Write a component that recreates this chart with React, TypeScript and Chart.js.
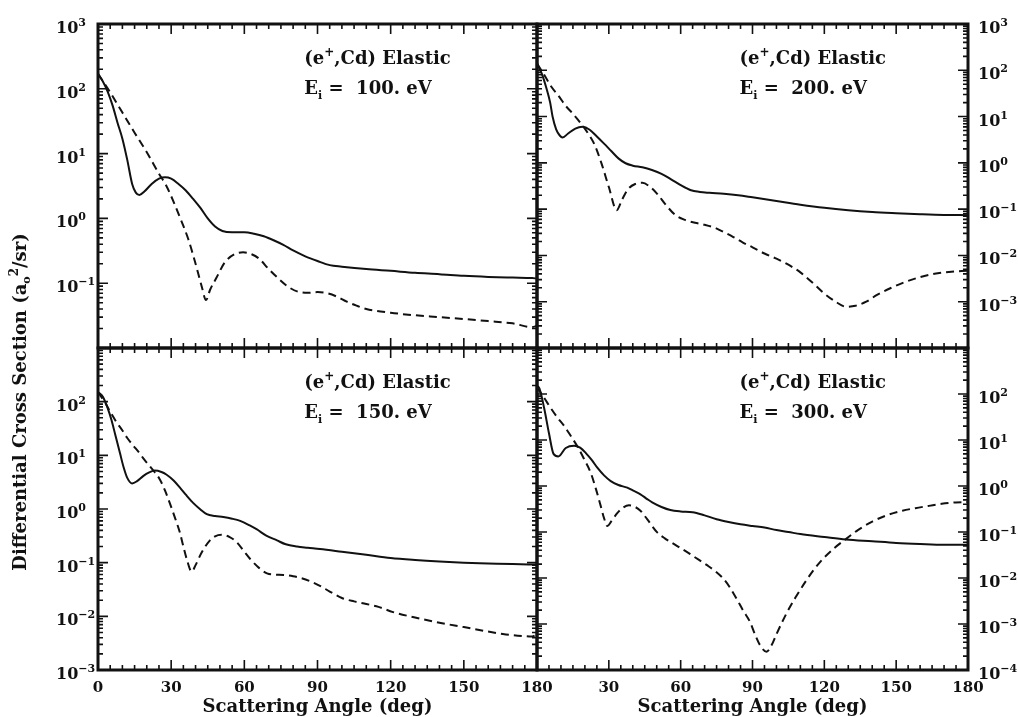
import { useEffect, useRef } from 'react';
import { Chart, registerables } from 'chart.js';

Chart.register(...registerables);

const PAGE_W = 1018;
const PAGE_H = 717;
const SERIF = '"DejaVu Serif", serif';
const INK = '#111';

// E = 100 eV
const angles100Solid = [0, 2, 4, 6, 8, 10, 12, 14, 15.5, 17, 19, 22, 25, 27.5, 30, 33, 36, 39, 42, 45, 48, 51, 55, 60, 64, 68, 72, 76, 80, 85, 90, 95, 100, 110, 120, 130, 140, 150, 160, 170, 178, 180];
const dcs100Solid = [170, 130, 90, 55, 30, 17, 8, 3.4, 2.5, 2.3, 2.6, 3.4, 4.1, 4.3, 4.1, 3.4, 2.7, 2.0, 1.45, 1.0, 0.75, 0.64, 0.61, 0.61, 0.58, 0.53, 0.46, 0.39, 0.32, 0.26, 0.22, 0.19, 0.18, 0.165, 0.155, 0.145, 0.138, 0.13, 0.125, 0.122, 0.12, 0.118];
const angles100Dashed = [0, 5, 10, 15, 20, 25, 28, 31, 34, 37, 40, 42.5, 44.3, 46, 48.5, 52, 56, 59.5, 63, 66, 70, 74, 78, 82, 86, 90, 94, 98, 102, 106, 110, 120, 130, 140, 150, 160, 170, 178, 180];
const dcs100Dashed = [170, 88, 43, 21, 10.5, 4.9, 3.2, 1.8, 0.95, 0.48, 0.2, 0.09, 0.055, 0.08, 0.12, 0.21, 0.28, 0.3, 0.28, 0.24, 0.165, 0.118, 0.088, 0.074, 0.071, 0.073, 0.07, 0.062, 0.052, 0.045, 0.04, 0.035, 0.032, 0.03, 0.028, 0.026, 0.024, 0.021, 0.022];

// E = 200 eV
const angles200Solid = [0, 2, 4, 5.5, 6.5, 8, 9.5, 10.7, 13, 16, 19, 22, 25, 28, 31, 34, 37, 40, 44, 48, 52, 56, 60, 64, 68, 72, 78, 84, 90, 100, 110, 120, 130, 140, 150, 160, 170, 180];
const dcs200Solid = [140, 85, 40, 20, 10, 5.3, 3.9, 3.55, 4.3, 5.5, 6.0, 5.2, 3.7, 2.6, 1.8, 1.25, 0.98, 0.87, 0.8, 0.7, 0.58, 0.44, 0.33, 0.26, 0.235, 0.225, 0.215, 0.2, 0.18, 0.15, 0.125, 0.107, 0.095, 0.087, 0.082, 0.078, 0.075, 0.074];
const angles200Dashed = [0, 3, 6, 9, 12, 15, 18, 21, 24, 27, 30, 33.3, 35.5, 38, 41, 44, 47, 50, 54, 58, 62, 66, 70, 74, 78, 82, 86, 90, 95, 100, 105, 110, 115, 120, 125, 129, 133, 137.5, 142, 148, 154, 160, 166, 172, 180];
const dcs200Dashed = [140, 80, 44, 28, 17, 11.5, 7.5, 4.6, 2.5, 0.95, 0.3, 0.095, 0.16, 0.27, 0.35, 0.37, 0.31, 0.22, 0.12, 0.073, 0.058, 0.051, 0.046, 0.04, 0.032, 0.025, 0.019, 0.015, 0.011, 0.0085, 0.0063, 0.0043, 0.0026, 0.0015, 0.00098, 0.00078, 0.00082, 0.001, 0.0014, 0.002, 0.0027, 0.0034, 0.004, 0.0044, 0.0047];

// E = 150 eV
const angles150Solid = [0, 2, 4, 5.5, 7, 9, 10.5, 12, 14, 16, 18.5, 21, 23.3, 26, 28, 31, 33.6, 36, 39, 42, 44.6, 48, 51.4, 55, 58.3, 62, 65, 69, 73.4, 77, 81.6, 86, 91, 100, 110, 120, 130, 140, 150, 160, 170, 180];
const dcs150Solid = [150, 124, 75, 46, 25, 11, 6, 3.8, 3.0, 3.3, 4.1, 4.8, 5.2, 4.9, 4.4, 3.4, 2.5, 1.85, 1.3, 0.98, 0.8, 0.74, 0.71, 0.66, 0.6, 0.5, 0.42, 0.32, 0.26, 0.22, 0.2, 0.19, 0.18, 0.16, 0.14, 0.122, 0.112, 0.105, 0.1, 0.097, 0.094, 0.092];
const angles150Dashed = [0, 3, 5, 7.5, 10, 12, 14.3, 17, 19, 21.2, 23, 25.3, 27.5, 29.4, 31.5, 33.6, 35, 36.3, 38.4, 40, 42.5, 45.9, 48, 50.7, 54, 56.9, 60, 62.4, 66, 69.3, 72, 76, 80, 83, 87, 91, 95, 100, 105, 110, 115, 121, 130, 140, 150, 158, 166, 174, 178, 180];
const dcs150Dashed = [150, 95, 65, 42, 29, 21, 15.5, 11, 8.3, 6.3, 5, 3.6, 2.2, 1.3, 0.7, 0.36, 0.2, 0.12, 0.068, 0.09, 0.155, 0.26, 0.31, 0.33, 0.3, 0.24, 0.16, 0.117, 0.08, 0.063, 0.06, 0.059, 0.056, 0.052, 0.045, 0.037, 0.029, 0.022, 0.019, 0.017, 0.015, 0.012, 0.0095, 0.0076, 0.0063, 0.0054, 0.0047, 0.0043, 0.0042, 0.0046];

// E = 300 eV
const angles300Solid = [0, 1, 3, 5, 6.9, 8.9, 12, 15.5, 18, 20.4, 23, 25.2, 28, 30.8, 34, 37.7, 40, 43.2, 46, 48.1, 52, 55.7, 60, 65, 70, 75, 80, 85, 90, 95, 100, 105, 110, 120, 129, 140, 150, 160, 170, 180];
const dcs300Solid = [150, 132, 49, 14, 5.0, 4.4, 6.7, 7.5, 6.8, 5.2, 3.6, 2.5, 1.7, 1.28, 1.05, 0.92, 0.8, 0.66, 0.52, 0.44, 0.35, 0.3, 0.28, 0.27, 0.23, 0.19, 0.165, 0.147, 0.135, 0.125, 0.11, 0.1, 0.09, 0.078, 0.069, 0.063, 0.058, 0.055, 0.053, 0.053];
const angles300Dashed = [0, 3, 5.8, 8.5, 11.4, 14, 16.9, 19.5, 22.5, 24.5, 26.6, 28, 29.4, 31, 33.6, 36, 38.4, 40.5, 43.2, 46, 50.2, 53.5, 57.1, 60.5, 64, 67.5, 71, 74.5, 77.9, 80.5, 83.4, 86, 89, 91, 93.1, 95.9, 98, 100, 104.2, 108, 112.5, 116, 119.4, 124, 129.1, 134, 140.2, 146, 152.6, 158, 163.7, 169, 174.9, 180];
const dcs300Dashed = [140, 82, 49, 31, 20, 12.5, 7.2, 4.0, 1.9, 0.9, 0.37, 0.2, 0.135, 0.17, 0.26, 0.34, 0.38, 0.36, 0.29, 0.19, 0.098, 0.072, 0.055, 0.043, 0.033, 0.025, 0.019, 0.014, 0.0096, 0.0063, 0.0035, 0.002, 0.0011, 0.0006, 0.00035, 0.00025, 0.00035, 0.0006, 0.0017, 0.0038, 0.0089, 0.016, 0.026, 0.044, 0.071, 0.11, 0.17, 0.23, 0.29, 0.33, 0.37, 0.41, 0.44, 0.45];

// Axis tick labels
const xLabelsLeft = [0, 30, 60, 90, 120, 150, 180];
const xLabelsRight = [30, 60, 90, 120, 150, 180];
const yExpTopLeft = [3, 2, 1, 0, -1];
const yExpBottomLeft = [2, 1, 0, -1, -2, -3];
const yExpTopRight = [3, 2, 1, 0, -1, -2, -3];
const yExpBottomRight = [2, 1, 0, -1, -2, -3, -4];

const energyLabels = ['100.', '200.', '150.', '300.'];

type Run = { t: string; size: number; dy?: number };

function drawRuns(ctx: CanvasRenderingContext2D, runs: Run[], x: number, y: number, align: 'left' | 'center') {
  let total = 0;
  for (const r of runs) {
    ctx.font = `bold ${r.size}px ${SERIF}`;
    total += ctx.measureText(r.t).width;
  }
  let cx = align === 'center' ? x - total / 2 : x;
  ctx.textAlign = 'left';
  ctx.textBaseline = 'alphabetic';
  for (const r of runs) {
    ctx.font = `bold ${r.size}px ${SERIF}`;
    ctx.fillText(r.t, cx, y + (r.dy || 0));
    cx += ctx.measureText(r.t).width;
  }
}

interface PanelSpec {
  id: string;
  energy: string;
  solid: { x: number; y: number }[];
  dashed: { x: number; y: number }[];
  yMinExp: number;
  yMaxExp: number;
  yLabelExps: number[];
  ySide: 'left' | 'right';
  xLabels: number[];
  pad: { left: number; top: number; right: number; bottom: number };
  xTitle: boolean;
  yTitle: boolean;
}

const pts = (xs: number[], ys: number[]) => xs.map((x, i) => ({ x, y: ys[i] }));

const panels: PanelSpec[] = [
  {
    id: 'tl', energy: energyLabels[0],
    solid: pts(angles100Solid, dcs100Solid), dashed: pts(angles100Dashed, dcs100Dashed),
    yMinExp: -2, yMaxExp: 3, yLabelExps: yExpTopLeft, ySide: 'left', xLabels: [],
    pad: { left: 98, top: 24, right: PAGE_W - 537, bottom: PAGE_H - 348 }, xTitle: false, yTitle: true,
  },
  {
    id: 'tr', energy: energyLabels[1],
    solid: pts(angles200Solid, dcs200Solid), dashed: pts(angles200Dashed, dcs200Dashed),
    yMinExp: -4, yMaxExp: 3, yLabelExps: yExpTopRight, ySide: 'right', xLabels: [],
    pad: { left: 537, top: 24, right: PAGE_W - 968, bottom: PAGE_H - 348 }, xTitle: false, yTitle: false,
  },
  {
    id: 'bl', energy: energyLabels[2],
    solid: pts(angles150Solid, dcs150Solid), dashed: pts(angles150Dashed, dcs150Dashed),
    yMinExp: -3, yMaxExp: 3, yLabelExps: yExpBottomLeft, ySide: 'left', xLabels: xLabelsLeft,
    pad: { left: 98, top: 348, right: PAGE_W - 537, bottom: PAGE_H - 670 }, xTitle: true, yTitle: false,
  },
  {
    id: 'br', energy: energyLabels[3],
    solid: pts(angles300Solid, dcs300Solid), dashed: pts(angles300Dashed, dcs300Dashed),
    yMinExp: -4, yMaxExp: 3, yLabelExps: yExpBottomRight, ySide: 'right', xLabels: xLabelsRight,
    pad: { left: 537, top: 348, right: PAGE_W - 968, bottom: PAGE_H - 670 }, xTitle: true, yTitle: false,
  },
];

function makeFramePlugin(spec: PanelSpec) {
  return {
    id: 'panelFrame_' + spec.id,
    afterDraw(chart: Chart) {
      const ctx = chart.ctx;
      const area = chart.chartArea;
      const xs = chart.scales.x;
      const ys = chart.scales.y;
      ctx.save();
      ctx.strokeStyle = INK;
      ctx.fillStyle = INK;

      // angle ticks every 5 degrees, on top and bottom edges
      ctx.lineWidth = 1.6;
      ctx.beginPath();
      for (let v = 0; v <= 180; v += 5) {
        const px = xs.getPixelForValue(v);
        const len = v % 30 === 0 ? 10 : 5;
        ctx.moveTo(px, area.bottom);
        ctx.lineTo(px, area.bottom - len);
        ctx.moveTo(px, area.top);
        ctx.lineTo(px, area.top + len);
      }
      // logarithmic ticks on left and right edges
      for (let e = spec.yMinExp; e <= spec.yMaxExp; e++) {
        for (let m = 1; m <= 9; m++) {
          if (e === spec.yMaxExp && m > 1) break;
          const py = ys.getPixelForValue(m * Math.pow(10, e));
          const len = m === 1 ? 10 : 5;
          ctx.moveTo(area.left, py);
          ctx.lineTo(area.left + len, py);
          ctx.moveTo(area.right, py);
          ctx.lineTo(area.right - len, py);
        }
      }
      ctx.stroke();

      // frame
      ctx.lineWidth = 3;
      ctx.strokeRect(area.left, area.top, area.right - area.left, area.bottom - area.top);

      // decade labels
      for (const e of spec.yLabelExps) {
        const py = ys.getPixelForValue(Math.pow(10, e));
        const x0 = spec.ySide === 'left' ? 56 : area.right + 10;
        ctx.textAlign = 'left';
        ctx.textBaseline = 'alphabetic';
        ctx.font = `bold 16px ${SERIF}`;
        ctx.fillText('10', x0, py + 9);
        const w = ctx.measureText('10').width;
        ctx.font = `bold 11px ${SERIF}`;
        ctx.fillText(e < 0 ? '\u2212' + Math.abs(e) : String(e), x0 + w, py + 2);
      }

      // angle labels
      ctx.font = `bold 15px ${SERIF}`;
      ctx.textAlign = 'center';
      ctx.textBaseline = 'alphabetic';
      for (const v of spec.xLabels) {
        ctx.fillText(String(v), xs.getPixelForValue(v), 692);
      }

      // panel annotation
      const tx = area.left + 0.47 * (area.right - area.left);
      const ty = area.top + 40;
      drawRuns(ctx, [
        { t: '(e', size: 18 },
        { t: '+', size: 12, dy: -8 },
        { t: ',Cd) Elastic', size: 18 },
      ], tx, ty, 'left');
      drawRuns(ctx, [
        { t: 'E', size: 18 },
        { t: 'i', size: 11, dy: 5 },
        { t: ' =  ' + spec.energy + ' eV', size: 18 },
      ], tx, ty + 30, 'left');

      if (spec.xTitle) {
        drawRuns(ctx, [{ t: 'Scattering Angle (deg)', size: 18 }], (area.left + area.right) / 2, 712, 'center');
      }
      if (spec.yTitle) {
        ctx.save();
        ctx.translate(20, 402);
        ctx.rotate(-Math.PI / 2);
        drawRuns(ctx, [
          { t: 'Differential Cross Section (a', size: 18 },
          { t: 'o', size: 11, dy: 4 },
          { t: '2', size: 12, dy: -8 },
          { t: '/sr)', size: 18 },
        ], 0, 6, 'center');
        ctx.restore();
      }
      ctx.restore();
    },
  };
}

function Panel({ spec }: { spec: PanelSpec }) {
  const ref = useRef<HTMLCanvasElement>(null);
  useEffect(() => {
    const canvas = ref.current;
    if (!canvas) return;
    const chart = new Chart(canvas, {
      type: 'line',
      data: {
        datasets: [
          {
            label: 'solid',
            data: spec.solid,
            borderColor: INK,
            borderWidth: 2,
            pointRadius: 0,
            fill: false,
            cubicInterpolationMode: 'monotone',
          },
          {
            label: 'dashed',
            data: spec.dashed,
            borderColor: INK,
            borderWidth: 2,
            borderDash: [8, 5],
            pointRadius: 0,
            fill: false,
            cubicInterpolationMode: 'monotone',
          },
        ],
      },
      options: {
        responsive: false,
        animation: false,
        devicePixelRatio: 1,
        layout: { padding: spec.pad },
        scales: {
          x: { type: 'linear', min: 0, max: 180, display: false },
          y: { type: 'logarithmic', min: Math.pow(10, spec.yMinExp), max: Math.pow(10, spec.yMaxExp), display: false },
        },
        plugins: { legend: { display: false }, tooltip: { enabled: false } },
        events: [],
      },
      plugins: [makeFramePlugin(spec)],
    });
    return () => chart.destroy();
  }, [spec]);
  return (
    <canvas
      ref={ref}
      width={PAGE_W}
      height={PAGE_H}
      style={{ position: 'absolute', left: 0, top: 0, width: PAGE_W, height: PAGE_H }}
    />
  );
}

export default function App() {
  return (
    <div style={{ position: 'fixed', left: 0, top: 0, width: PAGE_W, height: PAGE_H, background: '#fff', overflow: 'hidden' }}>
      {panels.map((p) => (
        <Panel key={p.id} spec={p} />
      ))}
    </div>
  );
}
